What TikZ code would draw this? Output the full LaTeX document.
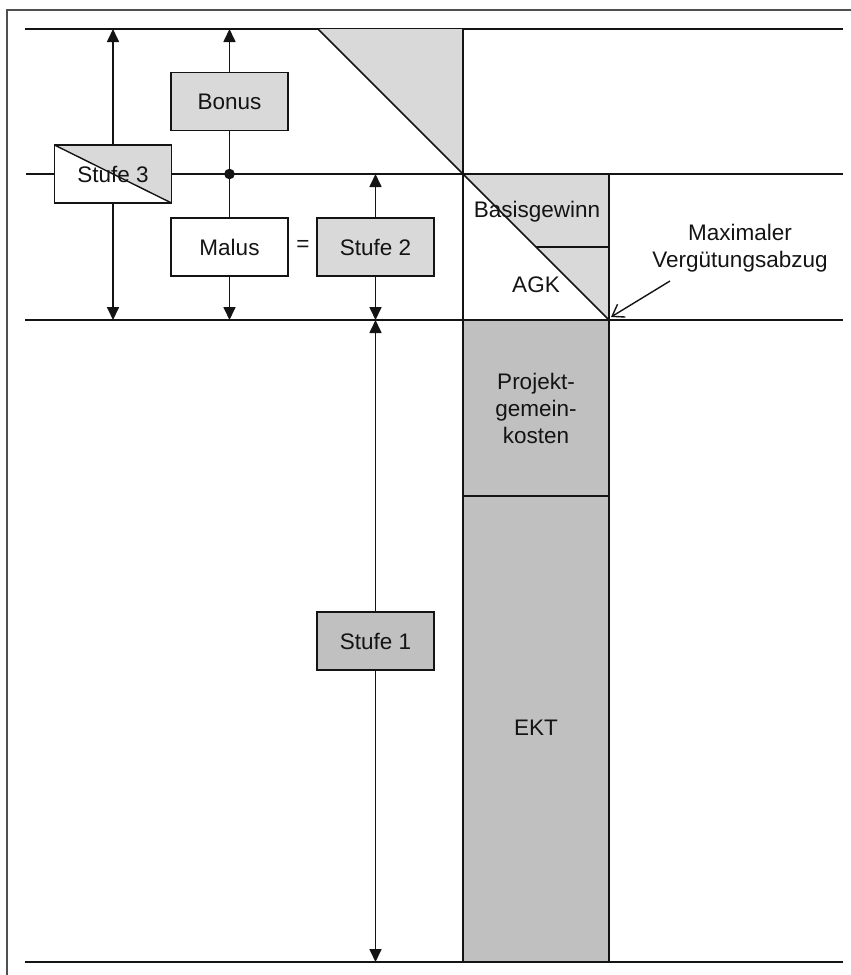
\documentclass[tikz,border=0pt]{standalone}
\usepackage{fontspec}
\setmainfont{Liberation Sans}
\usetikzlibrary{arrows.meta}
\definecolor{lightg}{HTML}{D9D9D9}
\definecolor{midg}{HTML}{C0C0C0}
\definecolor{ink}{HTML}{141414}
\definecolor{frame}{HTML}{505050}
\begin{document}
\begin{tikzpicture}[x=1pt,y=-1pt,
  line width=1.7pt, draw=ink,
  every node/.style={font=\fontsize{22.5}{27}\selectfont, text=ink},
  box/.style={draw=ink, line width=1.7pt, minimum width=117pt, minimum height=58pt, inner sep=0pt},
  arr/.style={-{Triangle[length=13pt,width=12pt]}, line width=1.7pt},
  barb/.style={-{Straight Barb[length=11pt,width=15pt]}, line width=1.4pt},
  lbl/.style={align=center, inner sep=0pt}
]
\useasboundingbox (0,0) rectangle (851,975);

% frame, cut off at the right and bottom
\draw[frame, line width=2.2pt] (7,975) -- (7,10) -- (851,10);

% level lines
\coordinate (tL) at (25,29);   \coordinate (tR) at (843,29);
\coordinate (mL) at (26,174);  \coordinate (mR) at (843,174);
\coordinate (lL) at (25,320);  \coordinate (lR) at (843,320);
\coordinate (bL) at (25,962);  \coordinate (bR) at (843,962);
\draw (tL) -- (tR);
\draw (mL) -- (mR);
\draw (lL) -- (lR);
\draw (bL) -- (bR);

% top triangle
\fill[lightg] (318,29) -- (463,29) -- (463,174) -- cycle;
\draw (318,29) -- (463,174) -- (463,29);

% Basisgewinn / AGK block
\draw[fill=white] (463,174) rectangle (609,320);
\fill[lightg] (463,174) -- (609,174) -- (609,320) -- cycle;
\draw (463,174) -- (609,320);
\draw (536,247) -- (609,247);
\draw (463,174) rectangle (609,320);

% cost blocks
\draw[fill=midg] (463,320) rectangle (609,496);
\draw[fill=midg] (463,496) rectangle (609,962);

\node[lbl] (bg) at (537,212) {Basisgewinn};
\node[lbl] (agk) at (536,285) {AGK};
\node[lbl] (pgk) at (536,408) {Projekt-\\gemein-\\kosten};
\node[lbl] (ekt) at (536,728) {EKT};

% maximum deduction
\node[lbl] (maxv) at (740,248) {Maximaler\\Vergütungsabzug};
\coordinate (maxs) at (670,281);
\coordinate (maxt) at (611,317);
\draw[barb] (maxs) -- (maxt);

% level boxes
\node[box, fill=white,
  path picture={
    \fill[lightg] (path picture bounding box.north west) -- (path picture bounding box.north east) -- (path picture bounding box.south east) -- cycle;
    \draw[line width=1.4pt] (path picture bounding box.north west) -- (path picture bounding box.south east);
  }] (s3) at (113,174) {Stufe 3};
\node[box, fill=lightg] (bonus) at (229.5,101.5) {Bonus};
\node[box, fill=white] (malus) at (229.5,247) {Malus};
\node[box, fill=lightg] (s2) at (375.5,247) {Stufe 2};
\node[box, fill=midg] (s1) at (375.5,641) {Stufe 1};
\node[inner sep=0pt] (eq) at (303,246) {=};

% arrows
\draw[arr] (s3.north) -- (s3.north |- tL);
\draw[arr] (s3.south) -- (s3.south |- lL);
\draw[arr] (bonus.north) -- (bonus.north |- tL);
\coordinate (dot) at (bonus.south |- mL);
\draw (bonus.south) -- (dot) -- (malus.north);
\fill[ink] (dot) circle (5.3pt);
\draw[arr] (malus.south) -- (malus.south |- lL);
\draw[arr] (s2.north) -- (s2.north |- mL);
\draw[arr] (s2.south) -- (s2.south |- lL);
\draw[arr] (s1.north) -- (s1.north |- lL);
\draw[arr] (s1.south) -- (s1.south |- bL);
\end{tikzpicture}
\end{document}
